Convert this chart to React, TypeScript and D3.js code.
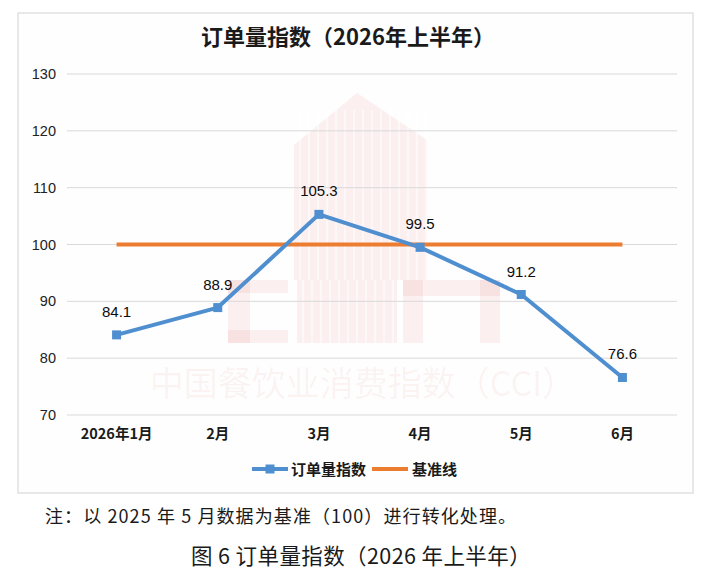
import React from "react";
import * as d3 from "d3";

const categories = ["2026年1月", "2月", "3月", "4月", "5月", "6月"];
const orderIndex = [84.1, 88.9, 105.3, 99.5, 91.2, 76.6];
const baseline = [100, 100, 100, 100, 100, 100];
const yTicks = [70, 80, 90, 100, 110, 120, 130];

const W = 721;
const H = 573;
const BLUE = "#4f8fd0";
const ORANGE = "#ec7d30";
const CJK = "'Noto Sans CJK SC', 'Noto Sans', sans-serif";
const LATIN = "'Liberation Sans', Arial, sans-serif";

export default function App() {
  const x = d3.scalePoint<string>().domain(categories).range([66, 673]).padding(0.5);
  const y = d3.scaleLinear().domain([70, 130]).range([415, 74]);

  const line = d3
    .line<number>()
    .x((_, i) => x(categories[i]) as number)
    .y((d) => y(d));

  const gridX0 = 67;
  const gridX1 = 677;
  const wmC = "rgba(232,120,120,0.11)";

  return (
    <svg
      width={W}
      height={H}
      viewBox={`0 0 ${W} ${H}`}
      style={{ position: "absolute", left: 0, top: 0, background: "#fff" }}
    >
      <rect x={0} y={0} width={W} height={H} fill="#ffffff" />
      {/* chart frame */}
      <rect x={18} y={13} width={675} height={480} fill="#fefefe" stroke="#d9d9d9" strokeWidth={1.2} />

      {/* watermark */}
      <g>
        <path d="M294,145 L357,93 L427,140 L427,280 L294,280 Z" fill={wmC} />
        {d3.range(300, 427, 9).map((vx) => (
          <line key={vx} x1={vx} x2={vx} y1={110} y2={280} stroke="rgba(255,255,255,0.55)" strokeWidth={2} />
        ))}
        <rect x={228} y={280} width={22} height={63} fill={wmC} />
        <rect x={228} y={280} width={60} height={13} fill={wmC} />
        <rect x={228} y={330} width={60} height={13} fill={wmC} />
        <rect x={297} y={280} width={100} height={63} fill={wmC} />
        {d3.range(303, 397, 9).map((vx) => (
          <line key={"b" + vx} x1={vx} x2={vx} y1={280} y2={343} stroke="rgba(255,255,255,0.55)" strokeWidth={2} />
        ))}
        <rect x={403} y={280} width={97} height={16} fill={wmC} />
        <rect x={403} y={280} width={20} height={63} fill={wmC} />
        <rect x={480} y={280} width={20} height={63} fill={wmC} />
        <text
          x={363}
          y={396}
          textAnchor="middle"
          fontFamily={CJK}
          fontSize={34}
          fill="rgba(232,130,130,0.09)"
        >
          中国餐饮业消费指数（CCI）
        </text>
      </g>

      {/* title */}
      <text x={348} y={45} textAnchor="middle" fontFamily={CJK} fontWeight={700} fontSize={22} fill="#1a1a1a">
        订单量指数（2026年上半年）
      </text>

      {/* gridlines & y labels */}
      {yTicks.map((t) => (
        <g key={t}>
          <line x1={gridX0} x2={gridX1} y1={y(t)} y2={y(t)} stroke="#d9d9d9" strokeWidth={1} />
          <text x={56} y={y(t) + 5} textAnchor="end" fontFamily={LATIN} fontSize={14.5} fill="#222">
            {t}
          </text>
        </g>
      ))}

      {/* x labels */}
      {categories.map((c) => (
        <text
          key={c}
          x={x(c) as number}
          y={439}
          textAnchor="middle"
          fontFamily={CJK}
          fontWeight={700}
          fontSize={14.5}
          fill="#1a1a1a"
        >
          {c}
        </text>
      ))}

      {/* baseline */}
      <path d={line(baseline) || ""} fill="none" stroke={ORANGE} strokeWidth={4} />

      {/* order index line */}
      <path d={line(orderIndex) || ""} fill="none" stroke={BLUE} strokeWidth={4} strokeLinejoin="round" />
      {orderIndex.map((v, i) => (
        <rect
          key={i}
          x={(x(categories[i]) as number) - 4.5}
          y={y(v) - 4.5}
          width={9}
          height={9}
          fill={BLUE}
        />
      ))}
      {orderIndex.map((v, i) => (
        <text
          key={"l" + i}
          x={x(categories[i]) as number}
          y={y(v) - 18}
          textAnchor="middle"
          fontFamily={LATIN}
          fontSize={15}
          fill="#0d0d0d"
        >
          {v.toFixed(1)}
        </text>
      ))}

      {/* legend */}
      <g>
        <line x1={252} x2={288} y1={469} y2={469} stroke={BLUE} strokeWidth={4} />
        <rect x={265.5} y={464.5} width={9} height={9} fill={BLUE} />
        <text x={291} y={475} fontFamily={CJK} fontWeight={700} fontSize={15} fill="#1a1a1a">
          订单量指数
        </text>
        <line x1={372} x2={408} y1={469} y2={469} stroke={ORANGE} strokeWidth={4} />
        <text x={412} y={475} fontFamily={CJK} fontWeight={700} fontSize={15} fill="#1a1a1a">
          基准线
        </text>
      </g>

      {/* note & caption */}
      <text x={45} y={523} fontFamily={CJK} fontSize={18} fill="#1a1a1a" letterSpacing={1.1}>
        注：以 2025 年 5 月数据为基准（100）进行转化处理。
      </text>
      <text
        x={361}
        y={564}
        textAnchor="middle"
        fontFamily={CJK}
        fontSize={21.5}
        fill="#1a1a1a"
        letterSpacing={0.4}
      >
        图 6 订单量指数（2026 年上半年）
      </text>
    </svg>
  );
}
